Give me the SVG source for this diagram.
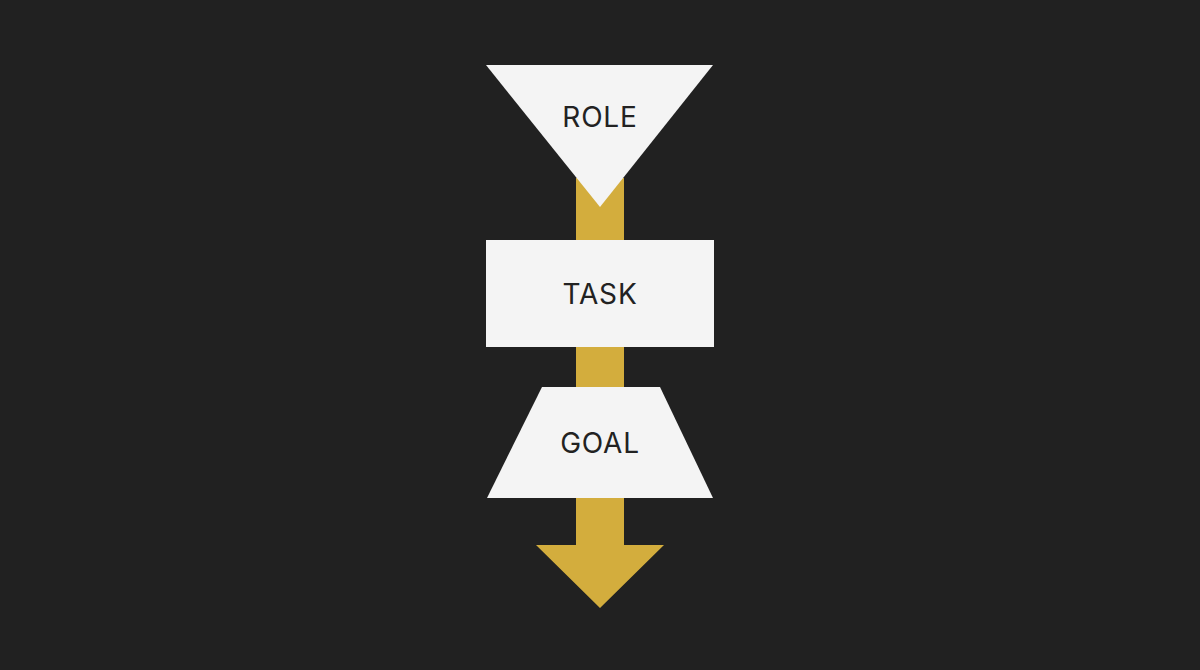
<svg xmlns="http://www.w3.org/2000/svg" width="1200" height="670" viewBox="0 0 1200 670">
<style>
.shape{fill:#f4f4f4}
.lbl{font-family:Inter,"Open Sans","Liberation Sans",sans-serif;font-size:28px;fill:#222222;text-anchor:middle;font-weight:400;letter-spacing:0.8px}
</style>
<rect width="1200" height="670" fill="#212121"/>
<g id="connectors">
<polygon points="576,178 624,178 624,545 664,545 600,608 536,545 576,545" fill="#d3ad3d"/>
</g>
<g id="role">
<polygon class="shape" points="486,65 713,65 600,207"/>
<text class="lbl" x="600" y="127">ROLE</text>
</g>
<g id="task">
<rect class="shape" x="486" y="240" width="228" height="107"/>
<text class="lbl" x="600" y="304">TASK</text>
</g>
<g id="goal">
<polygon class="shape" points="542,387 660,387 713,498 487,498"/>
<text class="lbl" x="600" y="453">GOAL</text>
</g>
</svg>
